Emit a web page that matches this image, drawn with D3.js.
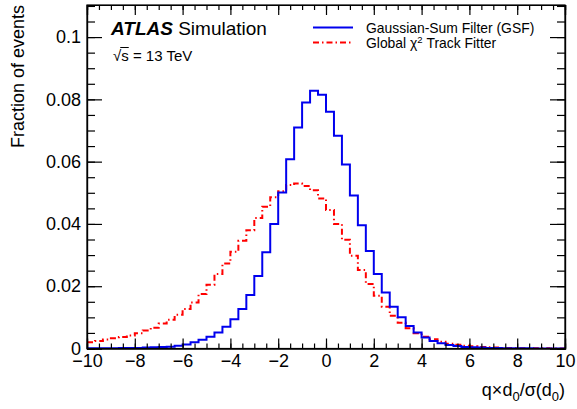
<!DOCTYPE html>
<html><head><meta charset="utf-8">
<script src="https://cdn.jsdelivr.net/npm/d3@7"></script>
<style>body{margin:0;background:#fff}svg{display:block}text{font-family:"Liberation Sans",Arial,sans-serif}</style>
</head><body><svg id="c" width="577" height="409"></svg>
<script>
// ---- data ----
const binEdgesStart = -10, binWidth = 1/3; // 60 bins from -10 to 10
const gsfValues = [0.00006,0.00008,0.0001,0.00012,0.00015,0.00018,0.0002,0.0003,0.0004,0.0005,
  0.0006,0.0009,0.0013,0.0020,0.0028,0.0038,0.0051,0.0070,0.0094,0.0127,
  0.0172,0.0233,0.0309,0.0400,0.0501,0.0608,0.0710,0.0790,0.0828,0.0815,
  0.0760,0.0683,0.0591,0.0491,0.0396,0.0313,0.0239,0.0180,0.0134,0.0100,
  0.0072,0.0051,0.0035,0.0024,0.0017,0.0011,0.0008,0.0005,0.0004,0.0003,
  0.0002,0.00015,0.0001,0.00008,0.00006,0.00005,0.00004,0.00003,0.00002,0.00002];
const gx2Values = [0.0020,0.0024,0.0029,0.0033,0.0037,0.0042,0.0049,0.0058,0.0067,0.0080,
  0.0092,0.0108,0.0127,0.0148,0.0175,0.0205,0.0239,0.0273,0.0311,0.0346,
  0.0380,0.0419,0.0455,0.0486,0.0505,0.0525,0.0530,0.0522,0.0508,0.0482,
  0.0445,0.0400,0.0349,0.0298,0.0252,0.0207,0.0169,0.0134,0.0105,0.0083,
  0.0065,0.0049,0.0038,0.0030,0.0022,0.0015,0.0012,0.0009,0.0007,0.0005,
  0.0004,0.0003,0.0002,0.00015,0.0001,0.0001,0.00007,0.00005,0.00004,0.00003];
const xTicks = [-10,-8,-6,-4,-2,0,2,4,6,8,10];
const yTicks = [0,0.02,0.04,0.06,0.08,0.1];
const legendLabels = ["Gaussian-Sum Filter (GSF)", "Global χ² Track Fitter"];

// ---- layout ----
const L=87, R=565, T=5, B=348.5;
const x = d3.scaleLinear().domain([-10,10]).range([L,R]);
const y = d3.scaleLinear().domain([0,0.1103]).range([B,T]);
const svg = d3.select("#c");

svg.append("clipPath").attr("id","clip").append("rect").attr("x",L).attr("y",T).attr("width",R-L).attr("height",B-T);

function pts(vals){
  const p = vals.map((v,i)=>[binEdgesStart+i*binWidth, v]);
  p.push([10, vals[vals.length-1]]);
  return p;
}
const line = d3.line().x(d=>x(d[0])).y(d=>y(d[1])).curve(d3.curveStepAfter);
const g = svg.append("g").attr("clip-path","url(#clip)");
g.append("path").attr("d",line(pts(gx2Values))).attr("fill","none").attr("stroke","#ff0000").attr("stroke-width",2).attr("stroke-dasharray","6,3,1.5,3");
g.append("path").attr("d",line(pts(gsfValues))).attr("fill","none").attr("stroke","#0000ee").attr("stroke-width",2);

// ---- axes ----
const xMinor = d3.range(-10,10.01,0.5);
const yMinor = d3.range(0,0.1101,0.005);
function styleAxis(sel){ sel.select(".domain").attr("stroke","#000").attr("stroke-width",1.2); sel.selectAll("line").attr("stroke","#000").attr("stroke-width",1.2); }
svg.append("g").attr("transform",`translate(0,${B})`).call(d3.axisBottom(x).tickValues(xMinor).tickSize(-5).tickFormat("")).call(styleAxis);
svg.append("g").attr("transform",`translate(0,${T})`).call(d3.axisTop(x).tickValues(xMinor).tickSize(-5).tickFormat("")).call(styleAxis);
svg.append("g").attr("transform",`translate(0,${T})`).call(d3.axisTop(x).tickValues(xTicks).tickSize(-10).tickFormat("")).call(styleAxis);
const xa = svg.append("g").attr("transform",`translate(0,${B})`).call(d3.axisBottom(x).tickValues(xTicks).tickSize(-10).tickPadding(6).tickFormat(d=>d3.format("d")(d))).call(styleAxis);
xa.selectAll("text").attr("font-size",18).attr("fill","#000");

svg.append("g").attr("transform",`translate(${L},0)`).call(d3.axisLeft(y).tickValues(yMinor).tickSize(-8).tickFormat("")).call(styleAxis);
svg.append("g").attr("transform",`translate(${R},0)`).call(d3.axisRight(y).tickValues(yMinor).tickSize(-8).tickFormat("")).call(styleAxis);
svg.append("g").attr("transform",`translate(${R},0)`).call(d3.axisRight(y).tickValues(yTicks).tickSize(-15).tickFormat("")).call(styleAxis);
const ya = svg.append("g").attr("transform",`translate(${L},0)`).call(d3.axisLeft(y).tickValues(yTicks).tickSize(-15).tickPadding(6).tickFormat(d=>String(d))).call(styleAxis);
ya.selectAll("text").attr("font-size",18).attr("fill","#000");
svg.append("rect").attr("x",L).attr("y",T).attr("width",R-L).attr("height",B-T).attr("fill","none").attr("stroke","#000").attr("stroke-width",1.2);

// axis titles
svg.append("text").attr("transform",`translate(24,${T}) rotate(-90)`).attr("text-anchor","end").attr("font-size",18).text("Fraction of events");
const xt = svg.append("text").attr("x",R).attr("y",396).attr("text-anchor","end").attr("font-size",18);
xt.append("tspan").text("q×d");
xt.append("tspan").attr("font-size",13).attr("dy",5).text("0");
xt.append("tspan").attr("dy",-5).text("/σ(d");
xt.append("tspan").attr("font-size",13).attr("dy",5).text("0");
xt.append("tspan").attr("dy",-5).text(")");

// ATLAS label
const at = svg.append("text").attr("x",111).attr("y",35).attr("font-size",19);
at.append("tspan").attr("font-weight","bold").attr("font-style","italic").text("ATLAS");
at.append("tspan").text(" Simulation");
const rs = svg.append("text").attr("x",113).attr("y",61).attr("font-size",15);
rs.append("tspan").text("√");
rs.append("tspan").text("s");
rs.append("tspan").text(" = 13 TeV");
{
  const n = rs.node();
  const s1 = n.getEndPositionOfChar(1).x;
  svg.append("line").attr("x1",n.getEndPositionOfChar(0).x-1).attr("x2",s1).attr("y1",47.5).attr("y2",47.5).attr("stroke","#000").attr("stroke-width",1);
}

// legend
const legend = svg.append("g");
legend.append("line").attr("x1",313).attr("x2",353).attr("y1",27.5).attr("y2",27.5).attr("stroke","#0000ee").attr("stroke-width",2);
legend.append("text").attr("x",366).attr("y",33).attr("font-size",13.9).text(legendLabels[0]);
legend.append("line").attr("x1",313).attr("x2",353).attr("y1",42.5).attr("y2",42.5).attr("stroke","#ff0000").attr("stroke-width",2).attr("stroke-dasharray","6,3,1.5,3");
const l2 = legend.append("text").attr("x",366).attr("y",48).attr("font-size",13.9);
l2.append("tspan").text("Global χ");
l2.append("tspan").attr("font-size",9.5).attr("dy",-5).text("2");
l2.append("tspan").attr("dy",5).text(" Track Fitter");
</script></body></html>
